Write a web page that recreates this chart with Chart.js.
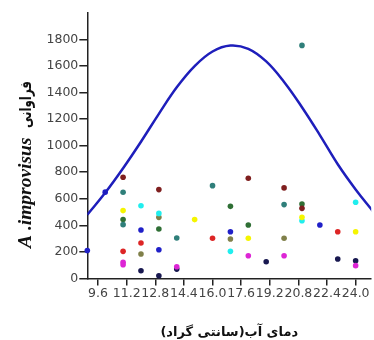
<!DOCTYPE html>
<html><head><meta charset="utf-8">
<script src="https://cdn.jsdelivr.net/npm/chart.js@4.4.0/dist/chart.umd.min.js"></script>
<style>html,body{margin:0;padding:0;background:#fff}#wrap{width:374px;height:340px}</style>
</head><body><div id="wrap"><canvas id="c"></canvas></div>
<script>
const xTickLabels = [9.6, 11.2, 12.8, 14.4, 16.0, 17.6, 19.2, 20.8, 22.4, 24.0];
const yTickLabels = [0, 200, 400, 600, 800, 1000, 1200, 1400, 1600, 1800];

const curveX = [9, 10, 11, 12, 13, 14, 15, 16, 17, 18, 19, 20, 21, 22, 23, 24, 25];
const curveY = [480, 645, 830, 1030, 1240, 1440, 1600, 1710, 1755, 1730, 1635, 1480, 1290, 1080, 860, 670, 500];

const maroonX = [11, 13, 18, 20, 21];
const maroonY = [762, 669, 755, 682, 528];
const tealX = [11, 11, 14, 16, 20, 21];
const tealY = [649, 405, 304, 699, 556, 1756];
const yellowX = [11, 15, 18, 21, 24];
const yellowY = [511, 443, 302, 460, 352];
const greenX = [11, 13, 17, 18, 21];
const greenY = [443, 372, 543, 402, 561];
const redX = [11, 12, 16, 23];
const redY = [204, 267, 302, 352];
const magentaX = [11, 11, 14, 18, 20, 24];
const magentaY = [121, 103, 88, 171, 171, 96];
const cyanX = [12, 13, 17, 21, 24];
const cyanY = [548, 490, 204, 435, 574];
const oliveX = [12, 13, 17, 20];
const oliveY = [184, 460, 297, 302];
const navyX = [12, 13, 14, 19, 23, 24];
const navyY = [58, 20, 70, 126, 146, 133];
const blueX = [9, 10, 12, 13, 17, 22];
const blueY = [210, 650, 365, 216, 352, 402];

const xTitle = 'دمای آب(سانتی گراد)';
const yTitleLatin = 'A .improvisus';
const yTitlePersian = 'فراوانی';

function pts(xs, ys) { return xs.map((x, i) => ({x: x, y: ys[i]})); }
function dots(label, xs, ys, color) {
  return {type: 'scatter', label: label, data: pts(xs, ys), backgroundColor: color,
    borderWidth: 0, pointRadius: 2.8, pointHoverRadius: 2.8, clip: false, order: 1};
}

const yTitlePlugin = {
  id: 'yTitle',
  afterDraw(chart) {
    const ctx = chart.ctx;
    ctx.save();
    ctx.translate(31, 248);
    ctx.rotate(-Math.PI / 2);
    ctx.fillStyle = '#111';
    ctx.textBaseline = 'alphabetic';
    ctx.textAlign = 'left';
    ctx.direction = 'ltr';
    ctx.font = 'italic bold 19.5px "Liberation Serif"';
    ctx.fillText(yTitleLatin, 0, 0);
    ctx.font = 'bold 16px "DejaVu Sans"';
    const w = ctx.measureText(yTitlePersian).width;
    const target = 47;
    ctx.translate(120, 0);
    ctx.scale(target / w, 1);
    ctx.fillText(yTitlePersian, 0, 0);
    ctx.restore();
  }
};

const tickFont = {family: 'DejaVu Sans', size: 12.5};

new Chart(document.getElementById('c'), {
  type: 'scatter',
  data: {
    datasets: [
      {type: 'line', label: 'curve', data: pts(curveX, curveY), borderColor: '#1e1ebb',
        borderWidth: 2.5, pointRadius: 0, tension: 0.4, fill: false, order: 0},
      dots('maroon', maroonX, maroonY, '#7f1f1f'),
      dots('teal', tealX, tealY, '#2f7f7a'),
      dots('yellow', yellowX, yellowY, '#f5f500'),
      dots('green', greenX, greenY, '#2f6f35'),
      dots('red', redX, redY, '#dd2525'),
      dots('magenta', magentaX, magentaY, '#dd25d5'),
      dots('cyan', cyanX, cyanY, '#20eeee'),
      dots('olive', oliveX, oliveY, '#80804a'),
      dots('navy', navyX, navyY, '#181850'),
      dots('blue', blueX, blueY, '#2020c8')
    ]
  },
  options: {
    responsive: true,
    maintainAspectRatio: false,
    animation: false,
    events: [],
    layout: {padding: {left: 45.5, top: 13, right: 0, bottom: 0}},
    plugins: {legend: {display: false}, tooltip: {enabled: false}},
    scales: {
      x: {
        type: 'linear', min: 9, max: 24.87,
        afterBuildTicks: s => { s.ticks = xTickLabels.map(v => ({value: v})); },
        ticks: {callback: v => Number(v).toFixed(1), font: tickFont, color: '#444',
          padding: 1, maxRotation: 0, autoSkip: false},
        grid: {display: true, drawOnChartArea: false, drawTicks: true, tickLength: 7,
          color: '#222', lineWidth: 1.5},
        border: {display: true, color: '#222', width: 1.5},
        title: {display: true, text: xTitle + '\u200F', color: '#111',
          font: {family: 'DejaVu Sans', weight: 'bold', size: 13},
          padding: {top: 22, bottom: 0}}
      },
      y: {
        type: 'linear', min: 0, max: 2000,
        afterBuildTicks: s => { s.ticks = yTickLabels.map(v => ({value: v})); },
        ticks: {callback: v => String(v), font: tickFont, color: '#444', padding: 1},
        grid: {display: true, drawOnChartArea: false, drawTicks: true, tickLength: 8,
          color: '#222', lineWidth: 1.5},
        border: {display: true, color: '#222', width: 1.5}
      }
    }
  },
  plugins: [yTitlePlugin]
});
</script>
</body></html>
